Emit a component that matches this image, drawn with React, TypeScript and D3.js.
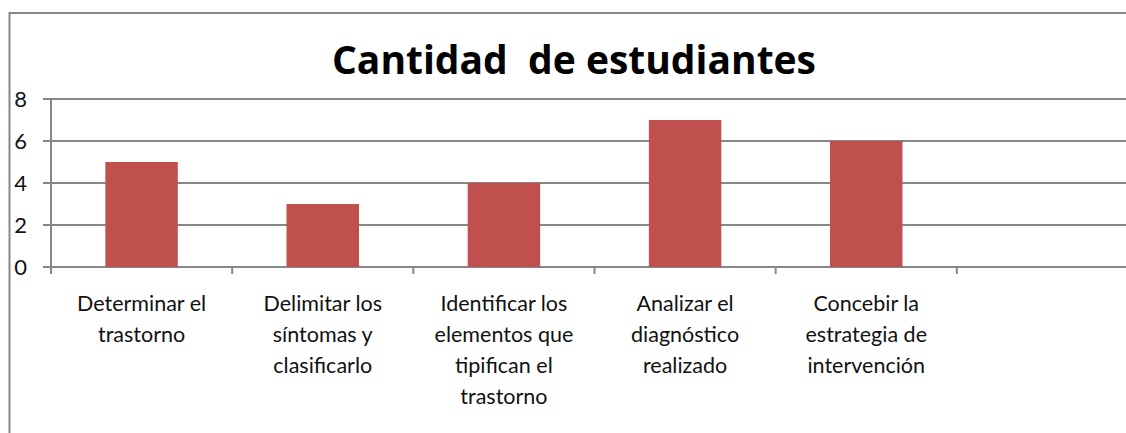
import React, { useEffect, useRef } from 'react';
import * as d3 from 'd3';

// category labels, already broken into lines as in the original
const categoryLines: string[][] = [
  ['Determinar el', 'trastorno'],
  ['Delimitar los', 'síntomas y', 'clasificarlo'],
  ['Identificar los', 'elementos que', 'tipifican el', 'trastorno'],
  ['Analizar el', 'diagnóstico', 'realizado'],
  ['Concebir la', 'estrategia de', 'intervención'],
  [],
];
const categories = ['c1', 'c2', 'c3', 'c4', 'c5', 'c6'];
const values = [5, 3, 4, 7, 6];
const yTicks = [0, 2, 4, 6, 8];
const title = 'Cantidad\u00a0\u00a0de estudiantes';

const W = 1126;
const H = 433;

const App: React.FC = () => {
  const svgRef = useRef<SVGSVGElement>(null);

  useEffect(() => {
    if (!svgRef.current) return;
    const svg = d3.select(svgRef.current);
    svg.selectAll('*').remove();

    const gray = '#878787';
    const left = 51;
    const right = 1138;
    const top = 99;
    const bottom = 267;

    const x = d3.scaleBand<string>().domain(categories).range([left, right]).padding(0);
    const y = d3.scaleLinear().domain([0, 8]).range([bottom, top]);
    const barW = x.bandwidth() * 0.4;

    // outer frame (cut by the picture edges)
    svg.append('path')
      .attr('d', `M9.5,${H + 5} V13 H${W + 5}`)
      .attr('fill', 'none')
      .attr('stroke', gray)
      .attr('stroke-width', 2);

    svg.append('text')
      .text(title)
      .attr('x', 574)
      .attr('y', 74)
      .attr('text-anchor', 'middle')
      .attr('font-family', '"Open Sans", sans-serif')
      .attr('font-weight', 700)
      .attr('font-size', 39)
      .attr('fill', '#000');

    // gridlines + y ticks
    svg.append('g')
      .selectAll('line')
      .data(yTicks)
      .enter()
      .append('line')
      .attr('x1', left - 8)
      .attr('x2', right)
      .attr('y1', d => y(d))
      .attr('y2', d => y(d))
      .attr('stroke', gray)
      .attr('stroke-width', 2);

    svg.append('g')
      .selectAll('text')
      .data(yTicks)
      .enter()
      .append('text')
      .text(d => d)
      .attr('x', 27)
      .attr('y', d => y(d) + 8)
      .attr('text-anchor', 'end')
      .attr('font-family', 'Lato, sans-serif')
      .attr('font-size', 22)
      .attr('fill', '#111');

    // y axis line
    svg.append('line')
      .attr('x1', left).attr('x2', left)
      .attr('y1', top).attr('y2', bottom)
      .attr('stroke', gray)
      .attr('stroke-width', 2);

    // category boundary ticks
    const bounds = categories.map(c => x(c) || 0).concat([right]);
    svg.append('g')
      .selectAll('line')
      .data(bounds)
      .enter()
      .append('line')
      .attr('x1', d => d).attr('x2', d => d)
      .attr('y1', bottom).attr('y2', bottom + 7)
      .attr('stroke', gray)
      .attr('stroke-width', 2);

    // bars
    svg.append('g')
      .selectAll('rect')
      .data(values)
      .enter()
      .append('rect')
      .attr('x', (_, i) => (x(categories[i]) || 0) + x.bandwidth() / 2 - barW / 2)
      .attr('y', d => y(d))
      .attr('width', barW)
      .attr('height', d => bottom - y(d))
      .attr('fill', '#C0504D');

    // category labels
    const lab = svg.append('g')
      .attr('font-family', 'Lato, sans-serif')
      .attr('font-size', 21.5)
      .attr('fill', '#111')
      .attr('text-anchor', 'middle');
    categoryLines.forEach((lines, i) => {
      const cx = (x(categories[i]) || 0) + x.bandwidth() / 2;
      lines.forEach((ln, j) => {
        lab.append('text')
          .text(ln)
          .attr('x', cx)
          .attr('y', 310.5 + j * 31);
      });
    });
  }, []);

  return (
    <svg
      ref={svgRef}
      width={W}
      height={H}
      style={{ position: 'absolute', left: 0, top: 0, background: '#fff' }}
    />
  );
};

export default App;
